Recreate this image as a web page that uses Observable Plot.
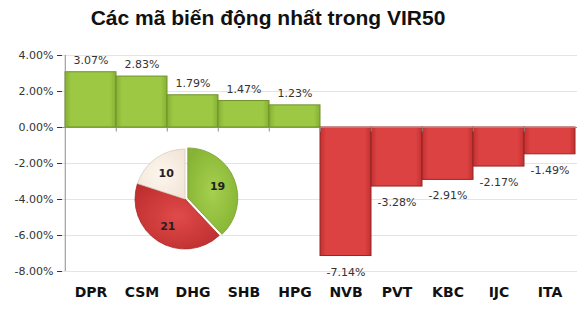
<!DOCTYPE html>
<html>
<head>
<meta charset="utf-8">
<script src="https://cdn.jsdelivr.net/npm/d3@7"></script>
<script src="https://cdn.jsdelivr.net/npm/@observablehq/plot@0.6"></script>
<style>
  html, body { margin: 0; padding: 0; background: #fff; }
  #wrap { position: relative; width: 581px; height: 311px; overflow: hidden; }
  #title { position: absolute; left: 0; top: 6px; width: 536px; text-align: center;
    font-family: "Liberation Sans", Arial, sans-serif; font-weight: bold; font-size: 21px; color: #111; }
  svg { font-family: "DejaVu Sans", sans-serif; }
</style>
</head>
<body>
<div id="wrap">
  <div id="title">Các mã biến động nhất trong VIR50</div>
  <div id="chart"></div>
</div>
<script>
const codes = ["DPR", "CSM", "DHG", "SHB", "HPG", "NVB", "PVT", "KBC", "IJC", "ITA"];
const changes = [3.07, 2.83, 1.79, 1.47, 1.23, -7.14, -3.28, -2.91, -2.17, -1.49];
const yTicks = [-8, -6, -4, -2, 0, 2, 4];
const pieLabels = ["Tăng", "Giảm", "Đứng giá"];
const pieValues = [19, 21, 10];
const pieColors = ["#98c441", "#d63c3c", "#fbf1e7"];

const rows = codes.map((c, i) => ({code: c, value: changes[i]}));
const pos = rows.filter(d => d.value >= 0);
const neg = rows.filter(d => d.value < 0);

const W = 581, H = 311, mL = 62, mR = 4, mT = 55, mB = 40;
const bw = (W - mL - mR) / codes.length;

const defs = () => {
  const g = d3.create("svg:defs");
  const mk = (id, c1, c2) => {
    const lg = g.append("linearGradient").attr("id", id).attr("x1", 0).attr("x2", 1).attr("y1", 0).attr("y2", 0);
    lg.append("stop").attr("offset", "0%").attr("stop-color", c2);
    lg.append("stop").attr("offset", "12%").attr("stop-color", c1);
    lg.append("stop").attr("offset", "88%").attr("stop-color", c1);
    lg.append("stop").attr("offset", "100%").attr("stop-color", c2);
  };
  mk("gGreen", "#9cc843", "#86b033");
  mk("gRed", "#dc4242", "#c23030");
  const rg = (id, c1, c2) => {
    const r = g.append("radialGradient").attr("id", id).attr("cx", "50%").attr("cy", "50%").attr("r", "60%");
    r.append("stop").attr("offset", "0%").attr("stop-color", c1);
    r.append("stop").attr("offset", "100%").attr("stop-color", c2);
  };
  rg("pG", "#a6d04e", "#86b334");
  rg("pR", "#e04a4a", "#bf2f2f");
  rg("pC", "#fdf6ee", "#f3e6d8");
  return g.node();
};

const pieMark = (index, scales) => {
  const cx = scales.x("DHG") + 18;
  const cy = scales.y(-4);
  const r = 50;
  const arcs = d3.pie().sort(null)(pieValues);
  const arc = d3.arc().innerRadius(0).outerRadius(r);
  const lab = d3.arc().innerRadius(32).outerRadius(32);
  const fills = ["url(#pG)", "url(#pR)", "url(#pC)"];
  const strokes = ["#7a9c2e", "#a62a2a", "#d8cbbd"];
  const g = d3.create("svg:g").attr("transform", `translate(${cx},${cy})`);
  arcs.forEach((a, i) => {
    const mid = (a.startAngle + a.endAngle) / 2;
    const off = i === 0 ? 3 : 0;
    const sg = g.append("g").attr("transform", `translate(${off * Math.sin(mid)},${-off * Math.cos(mid)})`);
    sg.append("path").attr("d", arc(a)).attr("fill", fills[i]).attr("stroke", strokes[i]).attr("stroke-width", 0.8);
    const [lx, ly] = lab.centroid(a);
    sg.append("text").attr("x", lx).attr("y", ly).attr("text-anchor", "middle").attr("dy", "0.35em")
      .attr("font-size", 11).attr("font-weight", "bold").attr("fill", "#222").text(pieValues[i])
      .append("title").text(pieLabels[i]);
  });
  return g.node();
};

const chart = Plot.plot({
  width: W, height: H,
  marginLeft: mL, marginRight: mR, marginTop: mT, marginBottom: mB,
  style: {fontFamily: "DejaVu Sans, sans-serif", fontSize: "11px", color: "#333", background: "transparent"},
  x: {domain: codes, padding: 0, axis: null},
  y: {domain: [-8, 4], ticks: 6, tickSize: 5, tickPadding: 4, tickFormat: d => d.toFixed(2) + "%", label: null},
  marks: [
    defs,
    Plot.ruleY(yTicks, {stroke: "#e4e4e4"}),
    Plot.barY(pos, {x: "code", y: "value", fill: "url(#gGreen)", stroke: "#6f922a", strokeWidth: 1, inset: 0}),
    Plot.barY(neg, {x: "code", y: "value", fill: "url(#gRed)", stroke: "#962424", strokeWidth: 1, inset: 0}),
    Plot.ruleY([0], {stroke: "#8c8c8c"}),
    Plot.ruleX(codes.slice(1), {x: d => d, y1: 0, y2: -0.25, dx: -bw / 2, stroke: "#8c8c8c"}),
    Plot.ruleX([codes[0]], {x: d => d, y1: -8, y2: 4, dx: -bw / 2, stroke: "#8c8c8c"}),
    Plot.text(pos, {x: "code", y: "value", text: d => d.value.toFixed(2) + "%", dy: -12, fill: "#333", fontSize: 11}),
    Plot.text(neg, {x: "code", y: "value", text: d => d.value.toFixed(2) + "%", dy: 16, fill: "#333", fontSize: 11}),
    Plot.text(codes, {x: d => d, frameAnchor: "bottom", dy: 25, text: d => d, fontSize: 14, fontWeight: "bold", fill: "#111"}),
    pieMark
  ]
});
document.getElementById("chart").appendChild(chart);
</script>
</body>
</html>
